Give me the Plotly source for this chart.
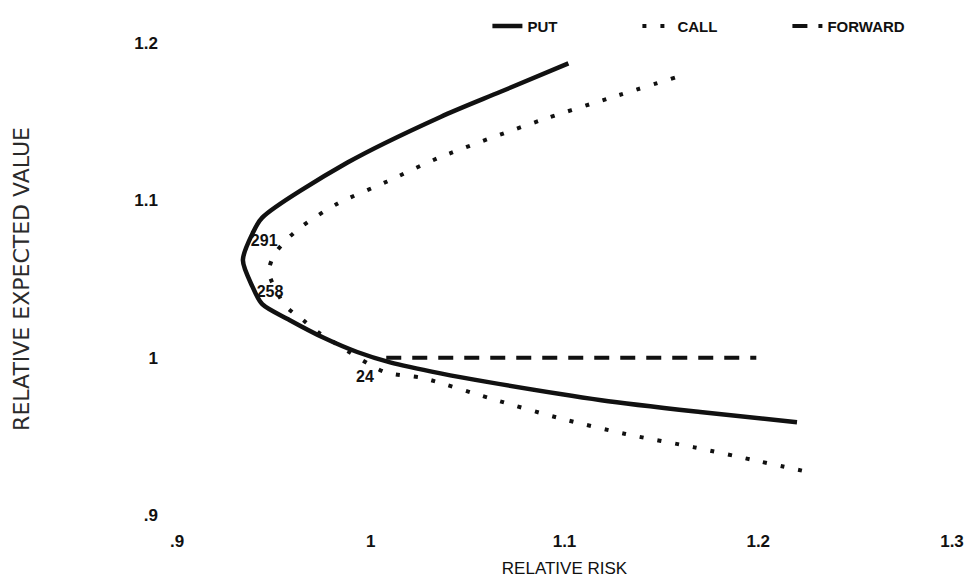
import plotly.graph_objects as go

# PUT frontier (relative risk, relative expected value)
put_x = [1.102, 1.067, 1.036, 0.988, 0.944, 0.939, 0.934, 0.939, 0.944, 0.958, 0.976, 0.993, 1.010, 1.036, 1.060, 1.119, 1.170, 1.220]
put_y = [1.187, 1.169, 1.153, 1.124, 1.089, 1.079, 1.062, 1.045, 1.034, 1.024, 1.0125, 1.0036, 0.997, 0.990, 0.9846, 0.973, 0.9655, 0.959]

# CALL frontier
call_x = [1.157, 1.122, 1.088, 1.035, 1.0085, 0.983, 0.965, 0.957, 0.950, 0.9475, 0.956, 0.965, 0.973, 0.982, 1.007, 1.027, 1.062, 1.096, 1.1315, 1.167, 1.201, 1.227]
call_y = [1.178, 1.1645, 1.151, 1.127, 1.112, 1.098, 1.084, 1.0755, 1.065, 1.054, 1.033, 1.024, 1.016, 1.009, 0.991, 0.987, 0.974, 0.962, 0.9515, 0.943, 0.934, 0.927]

# FORWARD
fwd_x = [1.008, 1.199]
fwd_y = [1.0, 1.0]

# point labels
label_text = ["291", "258", "24"]
label_x = [0.945, 0.948, 0.997]
label_y = [1.0736, 1.041, 0.987]

x_ticks = [0.9, 1.0, 1.1, 1.2, 1.3]
x_ticktext = [".9", "1", "1.1", "1.2", "1.3"]
y_ticks = [0.9, 1.0, 1.1, 1.2]
y_ticktext = [".9", "1", "1.1", "1.2"]

ink = "#111111"
tick_font = dict(family="Liberation Sans, Arial", size=17, color=ink, weight="bold")

fig = go.Figure()
fig.add_trace(go.Scatter(x=put_x, y=put_y, mode="lines", name="PUT",
                         line=dict(color=ink, width=4.5, shape="spline", smoothing=0.8)))
fig.add_trace(go.Scatter(x=call_x, y=call_y, mode="lines", name="CALL",
                         line=dict(color=ink, width=4, shape="spline", smoothing=0.8, dash="4px,14px")))
fig.add_trace(go.Scatter(x=fwd_x, y=fwd_y, mode="lines", name="FORWARD",
                         line=dict(color=ink, width=4, dash="15px,11px")))
fig.add_trace(go.Scatter(x=label_x, y=label_y, mode="text", text=label_text, showlegend=False,
                         textfont=dict(family="Liberation Sans, Arial", size=16, color=ink, weight="bold")))

fig.update_layout(
    width=969, height=583,
    margin=dict(l=177, r=17, t=43, b=68, autoexpand=False),
    paper_bgcolor="white", plot_bgcolor="white",
    showlegend=True,
    legend=dict(orientation="h", xref="container", yref="container",
                x=0.503, xanchor="left", y=0.955, yanchor="middle",
                entrywidth=105, entrywidthmode="pixels",
                font=dict(family="Liberation Sans, Arial", size=15, color=ink, weight="bold"),
                bgcolor="rgba(0,0,0,0)", itemwidth=30),
    xaxis=dict(range=[0.9, 1.3], tickvals=x_ticks, ticktext=x_ticktext, showgrid=False,
               zeroline=False, showline=False, ticks="", ticklabelstandoff=14, tickfont=tick_font,
               title=dict(text="RELATIVE RISK", standoff=12,
                          font=dict(family="Liberation Sans, Arial", size=17, color=ink))),
    yaxis=dict(range=[0.9, 1.2], tickvals=y_ticks, ticktext=y_ticktext, showgrid=False,
               zeroline=False, showline=False, ticks="", ticklabelstandoff=18, tickfont=tick_font,
               title=dict(text="RELATIVE EXPECTED VALUE", standoff=98,
                          font=dict(family="DejaVu Sans, Arial", size=22, color="#2a2a2a"))),
)

fig.write_html("out.html")
